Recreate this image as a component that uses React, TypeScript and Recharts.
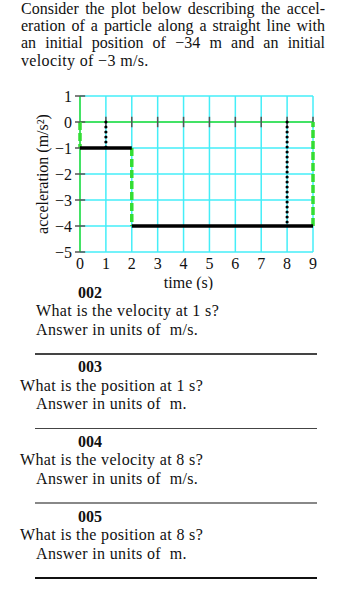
import { LineChart, Line, XAxis, YAxis, CartesianGrid, ReferenceLine } from 'recharts';

const timeTicks = [0, 1, 2, 3, 4, 5, 6, 7, 8, 9];
const accelTicks = [1, 0, -1, -2, -3, -4, -5];

// black step: the acceleration itself
const stepEarly = [{ t: 0, a: -1 }, { t: 2, a: -1 }];
const stepLate = [{ t: 2, a: -4 }, { t: 9, a: -4 }];

// green dashed jumps
const jumpStart = [{ t: 0, a: 0 }, { t: 0, a: -1 }];
const jumpMid = [{ t: 2, a: -1 }, { t: 2, a: -4 }];
const jumpEnd = [{ t: 9, a: -4 }, { t: 9, a: 0 }];

// black dotted markers at the asked times
const markOne = [{ t: 1, a: 0 }, { t: 1, a: -1 }];
const markEight = [{ t: 8, a: 0 }, { t: 8, a: -4 }];

const introLines = [
  'Consider the plot below describing the accel-',
  'eration of a particle along a straight line with',
  'an initial position of \u221234 m and an initial',
  'velocity of \u22123 m/s.',
];

const questionNumbers = ['002', '003', '004', '005'];
const questionTexts = [
  'What is the velocity at 1 s?',
  'What is the position at 1 s?',
  'What is the velocity at 8 s?',
  'What is the position at 8 s?',
];
const questionUnits = ['m/s.', 'm.', 'm/s.', 'm.'];

const SERIF = '"Liberation Serif", "DejaVu Serif", serif';
const CYAN = '#44eef8';
const GREEN = '#33dd33';
const svgText = { fontSize: 16, fill: '#111', fontFamily: SERIF, style: { fontFamily: SERIF } };

const minus = (v: number) => String(v).replace('-', '\u2212');

// place a line of text by its baseline
function Txt({ x, base, children, bold, w, justify }: {
  x: number; base: number; children: any; bold?: boolean; w?: number; justify?: boolean;
}) {
  return (
    <div
      style={{
        position: 'absolute', left: x, top: base - 12.4, width: w, whiteSpace: 'nowrap',
        fontSize: 16, lineHeight: '14px', fontWeight: bold ? 'bold' : 'normal',
        letterSpacing: justify || bold ? 0 : 0.35,
        textAlign: justify ? 'justify' : 'left', textAlignLast: justify ? 'justify' : 'auto',
      }}
    >
      {children}
    </div>
  );
}

export default function App() {
  const blockStep = 74.67;
  return (
    <div style={{ position: 'absolute', left: 0, top: 0, width: 362, height: 600, background: '#fff', fontFamily: SERIF, color: '#111' }}>
      {introLines.map((line, i) => (
        <Txt key={i} x={21} base={14 + i * 17.4} w={304} justify={i < introLines.length - 1}>{line}</Txt>
      ))}

      <div style={{ position: 'absolute', left: 0, top: 80, fontFamily: SERIF }}>
        <LineChart width={340} height={210} margin={{ top: 16, right: 27, bottom: 8, left: 0 }} style={{ fontFamily: SERIF }}>
          <CartesianGrid stroke={CYAN} strokeWidth={1.5} />
          <XAxis
            type="number" dataKey="t" domain={[0, 9]} ticks={timeTicks} interval={0}
            height={30} tickLine={false} axisLine={false} tickSize={3} tickMargin={3}
            tick={svgText}
            label={{ value: 'time (s)', position: 'insideBottom', offset: -6, dx: -8, ...svgText }}
          />
          <YAxis
            type="number" dataKey="a" domain={[-5, 1]} ticks={accelTicks} interval={0}
            width={80} tickSize={5} tickMargin={3} axisLine={false}
            tickLine={{ stroke: '#555', strokeWidth: 1.5 }}
            tickFormatter={minus}
            tick={svgText}
            label={{ value: 'acceleration (m/s\u00b2)', angle: -90, position: 'insideLeft', offset: 42, textAnchor: 'middle', ...svgText }}
          />
          <ReferenceLine x={0} stroke={GREEN} strokeWidth={1.5} />
          <ReferenceLine y={0} stroke={GREEN} strokeWidth={1.5} />
          {accelTicks.map(v => (
            <ReferenceLine key={'yt' + v} segment={[{ x: 0, y: v }, { x: 0.2, y: v }]} stroke="#555" strokeWidth={1.5} />
          ))}
          {timeTicks.slice(1).map(v => (
            <ReferenceLine key={'xt' + v} segment={[{ x: v, y: -0.2 }, { x: v, y: 0.2 }]} stroke="#555" strokeWidth={1.5} />
          ))}
          {[jumpStart, jumpMid, jumpEnd].map((d, i) => (
            <Line key={'j' + i} data={d} dataKey="a" type="linear" stroke={GREEN} strokeWidth={3.5}
              strokeDasharray="8 3" dot={false} isAnimationActive={false} />
          ))}
          {[stepEarly, stepLate].map((d, i) => (
            <Line key={'s' + i} data={d} dataKey="a" type="linear" stroke="#000" strokeWidth={3.5}
              dot={false} isAnimationActive={false} />
          ))}
          {[markOne, markEight].map((d, i) => (
            <Line key={'m' + i} data={d} dataKey="a" type="linear" stroke="#000" strokeWidth={3.2}
              strokeDasharray="0 5" strokeLinecap="round" dot={false} isAnimationActive={false} />
          ))}
        </LineChart>
      </div>

      {questionNumbers.map((num, i) => {
        const b = 298 + i * blockStep;
        return (
          <div key={num}>
            <Txt x={78} base={b} bold>{num}</Txt>
            <Txt x={i === 0 ? 36 : 20} base={b + 18.5}>{questionTexts[i]}</Txt>
            <Txt x={36} base={b + 37}>Answer in units of&nbsp; {questionUnits[i]}</Txt>
            <div style={{
              position: 'absolute', left: 35, width: 282, top: b + 56 - 1,
              height: i === 3 ? 2 : 1.5, background: i === 3 ? '#111' : i === 2 ? '#888' : '#444',
            }} />
          </div>
        );
      })}
    </div>
  );
}
